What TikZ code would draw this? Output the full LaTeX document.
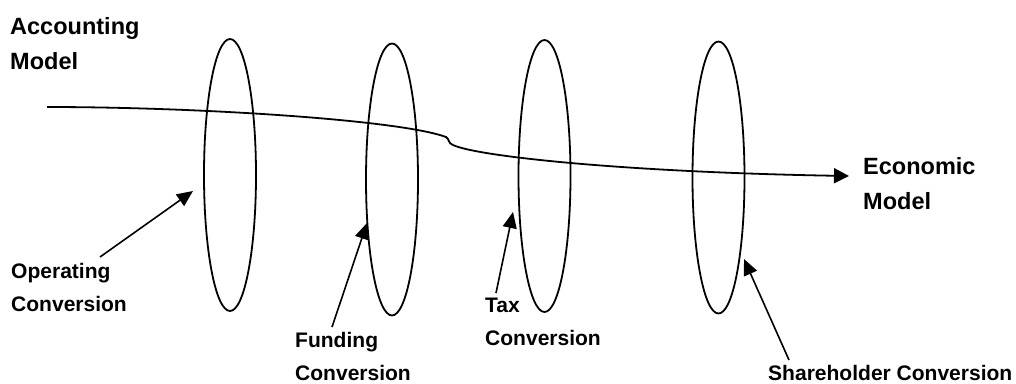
\documentclass[tikz,border=0pt]{standalone}
\usepackage{fontspec}
\setmainfont{Liberation Sans}
\usetikzlibrary{shapes.geometric,arrows.meta}
\begin{document}
\begin{tikzpicture}[x=1bp,y=-1bp,
  ring/.style={draw,ellipse,line width=1.8bp,minimum width=52bp,minimum height=272bp,inner sep=0pt},
  biglabel/.style={anchor=north west,inner sep=0pt,align=left,font=\bfseries\fontsize{23.6}{35}\selectfont},
  smalllabel/.style={anchor=north west,inner sep=0pt,align=left,font=\bfseries\fontsize{21.1}{33}\selectfont},
  arr/.style={line width=1.6bp,-{Triangle[length=16bp,width=14bp]}},
  flow/.style={line width=1.8bp}]
\useasboundingbox (0,0) rectangle (1016,383);
\node[ring] (e1) at (230,175) {};
\node[ring] (e2) at (392,179.5) {};
\node[ring] (e3) at (544.5,176) {};
\node[ring] (e4) at (718.5,177.5) {};
\node[biglabel] (acc) at (10,17) {Accounting\\Model};
\node[biglabel] (eco) at (863,157) {Economic\\Model};
\node[smalllabel] (op) at (11,263) {Operating\\Conversion};
\node[smalllabel] (fund) at (295,332) {Funding\\Conversion};
\node[smalllabel] (tax) at (485,298) {Tax\\Conversion};
\node[smalllabel] (sh) at (768,365) {Shareholder Conversion};
\coordinate (start) at (47,107);
\coordinate (stepA) at (446,137);
\coordinate (stepB) at (453,145);
\coordinate (finish) at (849,176);
\draw[flow] (start) .. controls (200,107) and (400,120) .. (stepA)
  .. controls (449.5,139) and (448,143.5) .. (stepB);
\draw[flow,-{Triangle[length=15bp,width=15bp]}] (stepB) .. controls (476,156) and (620,172) .. (finish);
\coordinate (opt) at (100,257);
\coordinate (oph) at (193,191);
\coordinate (ft) at (332,327);
\coordinate (fh) at (367,223);
\coordinate (tt) at (496,293);
\coordinate (th) at (513,212);
\coordinate (st) at (789,360);
\coordinate (sh2) at (744,259);
\draw[arr] (opt) -- (oph);
\draw[arr] (ft) -- (fh);
\draw[arr] (tt) -- (th);
\draw[arr] (st) -- (sh2);
\end{tikzpicture}
\end{document}
